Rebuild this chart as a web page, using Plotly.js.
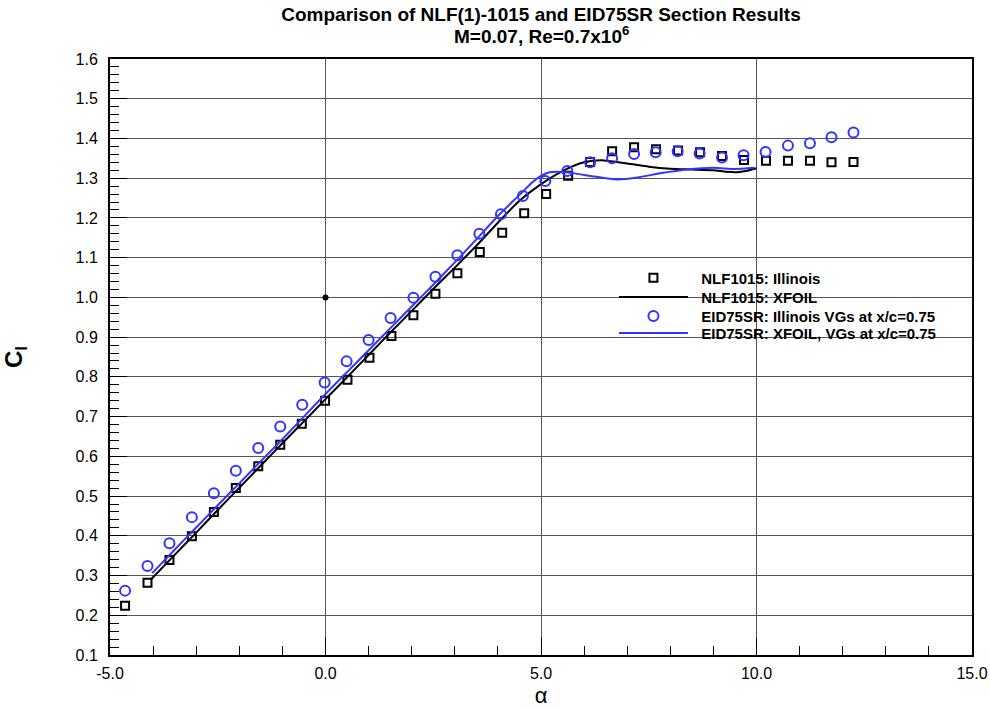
<!DOCTYPE html>
<html>
<head>
<meta charset="utf-8">
<script src="https://cdn.plot.ly/plotly-3.0.1.min.js"></script>
<style>
  html, body { margin: 0; padding: 0; background: #ffffff; }
  #chart { width: 990px; height: 709px; }
</style>
</head>
<body>
<div id="chart"></div>
<script>
// NLF(1)-1015, wind-tunnel measurements (angle of attack in degrees, lift coefficient)
const nlfTestAlpha = [-4.65, -4.13, -3.62, -3.10, -2.59, -2.08, -1.56, -1.05, -0.55, -0.01,
  0.51, 1.02, 1.53, 2.04, 2.55, 3.06, 3.58, 4.10, 4.61, 5.12, 5.63, 6.14, 6.65, 7.16,
  7.67, 8.18, 8.69, 9.20, 9.71, 10.22, 10.73, 11.24, 11.74, 12.25];
const nlfTestCl = [0.224, 0.282, 0.339, 0.399, 0.460, 0.520, 0.575, 0.629, 0.682, 0.740,
  0.793, 0.848, 0.903, 0.955, 1.009, 1.061, 1.114, 1.163, 1.212, 1.260, 1.306, 1.341,
  1.368, 1.378, 1.373, 1.370, 1.365, 1.356, 1.346, 1.344, 1.344, 1.344, 1.340, 1.341];

// NLF(1)-1015, XFOIL prediction
const nlfXfoilAlpha = [-4.05, -3.5, -3.0, -2.5, -2.0, -1.5, -1.0, -0.5, 0.0, 0.5, 1.0, 1.5,
  2.0, 2.5, 3.0, 3.5, 4.0, 4.5, 5.0, 5.5, 6.0, 6.4, 7.0, 7.5, 8.0, 8.5, 9.0, 9.3, 9.55, 9.75, 10.0];
const nlfXfoilCl = [0.290, 0.352, 0.408, 0.465, 0.521, 0.577, 0.633, 0.688, 0.744, 0.799,
  0.855, 0.911, 0.966, 1.021, 1.075, 1.130, 1.188, 1.243, 1.285, 1.318, 1.340, 1.345,
  1.337, 1.329, 1.324, 1.322, 1.320, 1.316, 1.315, 1.318, 1.325];

// EID75SR with vortex generators at x/c = 0.75, wind-tunnel measurements
const eidTestAlpha = [-4.65, -4.13, -3.62, -3.10, -2.59, -2.08, -1.56, -1.05, -0.54, -0.02,
  0.49, 1.00, 1.51, 2.04, 2.55, 3.06, 3.57, 4.07, 4.58, 5.10, 5.61, 6.14, 6.65, 7.16,
  7.66, 8.17, 8.68, 9.20, 9.70, 10.21, 10.73, 11.24, 11.74, 12.25];
const eidTestCl = [0.262, 0.324, 0.381, 0.447, 0.507, 0.564, 0.621, 0.675, 0.730, 0.786,
  0.839, 0.893, 0.948, 0.999, 1.052, 1.106, 1.160, 1.209, 1.255, 1.293, 1.318, 1.340,
  1.350, 1.361, 1.365, 1.368, 1.362, 1.352, 1.358, 1.366, 1.382, 1.388, 1.403, 1.415];

// EID75SR with vortex generators at x/c = 0.75, XFOIL prediction
const eidXfoilAlpha = [-4.02, -3.5, -3.0, -2.5, -2.0, -1.5, -1.0, -0.5, 0.0, 0.5, 1.0, 1.5,
  2.0, 2.5, 3.0, 3.5, 4.0, 4.5, 4.8, 5.0, 5.2, 5.6, 6.0, 6.5, 6.8, 7.2, 7.8, 8.4, 9.0, 9.5, 9.95];
const eidXfoilCl = [0.306, 0.365, 0.421, 0.477, 0.532, 0.588, 0.643, 0.700, 0.757, 0.812,
  0.867, 0.922, 0.977, 1.032, 1.088, 1.146, 1.205, 1.258, 1.290, 1.306, 1.315, 1.315,
  1.308, 1.300, 1.297, 1.301, 1.313, 1.322, 1.326, 1.323, 1.326];

// reference point marked on the grid
const markAlpha = [0.0];
const markCl = [1.0];

// axis ticks and labels
const alphaTickVals = [-5, 0, 5, 10, 15];
const alphaTickText = ['-5.0', '0.0', '5.0', '10.0', '15.0'];

const seriesNames = [
  'NLF1015: Illinois',
  'NLF1015: XFOIL',
  'EID75SR: Illinois VGs at x/c=0.75',
  'EID75SR: XFOIL, VGs at x/c=0.75'
];

const FONT = '"Liberation Sans", Arial, sans-serif';
const BLUE = 'rgb(52,52,255)';
const PAD = '\u00a0\u00a0';

const traces = [
  {
    x: nlfTestAlpha, y: nlfTestCl, name: PAD + seriesNames[0], type: 'scatter', mode: 'markers',
    legend: 'legend',
    marker: { symbol: 'square-open', size: 8, color: '#000', line: { width: 2, color: '#000' } }
  },
  {
    x: nlfXfoilAlpha, y: nlfXfoilCl, name: PAD + seriesNames[1], type: 'scatter', mode: 'lines',
    legend: 'legend2',
    line: { color: '#000', width: 2, shape: 'spline', smoothing: 0.6 }
  },
  {
    x: eidTestAlpha, y: eidTestCl, name: PAD + seriesNames[2], type: 'scatter', mode: 'markers',
    legend: 'legend3',
    marker: { symbol: 'circle-open', size: 10, color: BLUE, line: { width: 2, color: BLUE } }
  },
  {
    x: eidXfoilAlpha, y: eidXfoilCl, name: PAD + seriesNames[3], type: 'scatter', mode: 'lines',
    legend: 'legend4',
    line: { color: BLUE, width: 2, shape: 'spline', smoothing: 0.6 }
  },
  {
    x: markAlpha, y: markCl, type: 'scatter', mode: 'markers', showlegend: false,
    hoverinfo: 'skip', marker: { symbol: 'circle', size: 6, color: '#000' }
  }
];

// one legend box per entry so the rows sit on a tight, even pitch
function legendRow(y) {
  return {
    x: 0.5846, xanchor: 'left',
    y: y, yanchor: 'top',
    bgcolor: 'rgba(0,0,0,0)',
    borderwidth: 0,
    itemwidth: 69,
    font: { family: FONT, size: 15, color: '#000', weight: 'bold' }
  };
}

const layout = {
  width: 990,
  height: 709,
  paper_bgcolor: '#fff',
  plot_bgcolor: '#fff',
  margin: { l: 110, r: 18, t: 59, b: 54 },
  font: { family: FONT, color: '#000', size: 13 },
  title: {
    text: '<b>Comparison of NLF(1)-1015 and EID75SR Section Results</b>',
    font: { family: FONT, size: 19, color: '#000' },
    x: 0.5, xref: 'paper', xanchor: 'center',
    y: 0.980, yref: 'container', yanchor: 'middle'
  },
  annotations: [
    {
      text: '<b>M=0.07, Re=0.7x10<sup>6</sup></b>',
      xref: 'paper', yref: 'paper', x: 0.5, y: 1.041,
      xanchor: 'center', yanchor: 'middle', showarrow: false,
      font: { family: FONT, size: 19, color: '#000' }
    }
  ],
  xaxis: {
    range: [-5, 15],
    tickmode: 'array',
    tickvals: alphaTickVals,
    ticktext: alphaTickText,
    ticks: 'inside',
    ticklen: 17,
    tickwidth: 1,
    tickcolor: '#000',
    ticklabelstandoff: 3,
    tickfont: { family: FONT, size: 16, color: '#000' },
    showgrid: true,
    gridcolor: '#555',
    gridwidth: 1,
    zeroline: false,
    showline: true,
    linecolor: '#000',
    linewidth: 2,
    mirror: true,
    minor: { dtick: 1, tick0: 0, ticks: 'inside', ticklen: 9, tickcolor: '#000', tickwidth: 1, showgrid: false },
    title: { text: 'α', font: { family: FONT, size: 22, color: '#000' }, standoff: 6 }
  },
  yaxis: {
    range: [0.1, 1.6],
    dtick: 0.1,
    tick0: 0,
    tickformat: '.1f',
    ticks: 'inside',
    ticklen: 17,
    tickwidth: 1,
    tickcolor: '#000',
    ticklabelstandoff: 7,
    tickfont: { family: FONT, size: 16, color: '#000' },
    showgrid: true,
    gridcolor: '#555',
    gridwidth: 1,
    zeroline: false,
    showline: true,
    linecolor: '#000',
    linewidth: 2,
    mirror: true,
    minor: { dtick: 0.02, ticks: 'inside', ticklen: 9, tickcolor: '#000', tickwidth: 1, showgrid: false },
    title: { text: '<b>C<sub>l</sub></b>', font: { family: FONT, size: 24, color: '#000' }, standoff: 47 }
  },
  shapes: [
    {
      type: 'rect', xref: 'paper', yref: 'paper', layer: 'below',
      x0: 0.572, x1: 0.993, y0: 0.502, y1: 0.686,
      fillcolor: '#fff', line: { width: 0 }
    }
  ],
  legend: legendRow(0.6602),
  legend2: legendRow(0.6278),
  legend3: legendRow(0.5959),
  legend4: legendRow(0.5675),
  showlegend: true
};

Plotly.newPlot('chart', traces, layout, { displayModeBar: false, staticPlot: true });
</script>
</body>
</html>
